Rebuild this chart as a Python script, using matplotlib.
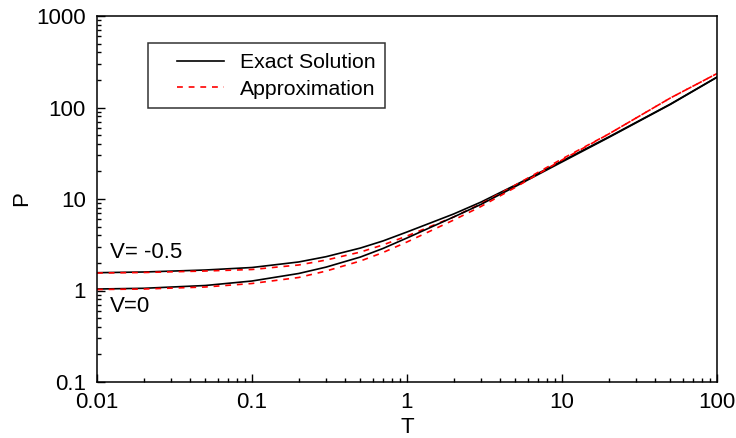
import numpy as np
import matplotlib
matplotlib.use('Agg')
import matplotlib.pyplot as plt
from matplotlib.legend_handler import HandlerLine2D

plt.rcParams['font.family'] = ['Liberation Sans', 'DejaVu Sans']

# values
T = [0.01, 0.02, 0.05, 0.1, 0.2, 0.3, 0.5, 0.7, 1, 2, 3, 5, 10, 20, 50, 100]
exact_v05 = [1.565, 1.593, 1.675, 1.784, 2.05, 2.34, 2.91, 3.48, 4.36, 6.86, 9.25, 14.2, 26.0, 47.6, 109, 215]
exact_v0 = [1.038, 1.057, 1.134, 1.27, 1.534, 1.80, 2.32, 2.88, 3.75, 6.36, 8.73, 13.7, 25.4, 47.0, 108, 214]
approx_v05 = [1.553, 1.573, 1.633, 1.696, 1.90, 2.15, 2.63, 3.15, 3.94, 6.36, 8.87, 14.2, 27.4, 51.3, 127, 235]
approx_v0 = [1.025, 1.038, 1.092, 1.193, 1.387, 1.63, 2.10, 2.60, 3.39, 5.89, 8.28, 13.4, 26.7, 51.3, 127, 235]


class InsetLine(HandlerLine2D):
    # legend line drawn with some space on its left, like the original
    def create_artists(self, legend, orig_handle, xdescent, ydescent, width, height, fontsize, trans):
        off = 14
        return super().create_artists(legend, orig_handle, xdescent - off, ydescent,
                                      width - off, height, fontsize, trans)


fig = plt.figure(figsize=(7.36, 4.38), dpi=100)
ax = fig.add_axes([97/736, 1 - 382/438, 620/736, 366/438])

dash = (0, (3.5, 3.5))
l1, = ax.plot(T, exact_v05, color='black', lw=1.2, label='Exact Solution')
l2, = ax.plot(T, approx_v05, color='red', lw=1.2, ls=dash, label='Approximation')
ax.plot(T, exact_v0, color='black', lw=1.2)
ax.plot(T, approx_v0, color='red', lw=1.2, ls=dash)

ax.set_xscale('log')
ax.set_yscale('log')
ax.set_xlim(0.01, 100)
ax.set_ylim(0.1, 1000)

xt = [0.01, 0.1, 1, 10, 100]
yt = [0.1, 1, 10, 100, 1000]
ax.set_xticks(xt)
ax.set_xticklabels(['0.01', '0.1', '1', '10', '100'])
ax.set_yticks(yt)
ax.set_yticklabels(['0.1', '1', '10', '100', '1000'])
ax.tick_params(which='both', direction='in', top=False, right=False, labelsize=16, width=1.0)
ax.tick_params(axis='x', which='major', length=6, pad=7)
ax.tick_params(axis='y', which='major', length=6, pad=8)
ax.tick_params(which='minor', length=3)
for s in ax.spines.values():
    s.set_linewidth(1.1)

ax.set_xlabel('T', fontsize=16, labelpad=3)
ax.set_ylabel('P', fontsize=16, labelpad=3)

ax.text(0.0122, 2.63, 'V= -0.5', fontsize=16, va='center', ha='left')
ax.text(0.0122, 0.67, 'V=0', fontsize=16, va='center', ha='left')

leg = ax.legend(handles=[l1, l2], loc='upper left', bbox_to_anchor=(0.0823, 0.926),
                fontsize=15.3, frameon=True, fancybox=False, handlelength=3.1,
                borderpad=0.47, labelspacing=0.35, handletextpad=0.75, borderaxespad=0,
                handler_map={l1: InsetLine(), l2: InsetLine()})
leg.get_frame().set_edgecolor('black')
leg.get_frame().set_linewidth(1.1)

fig.savefig('out.png', dpi=100)
